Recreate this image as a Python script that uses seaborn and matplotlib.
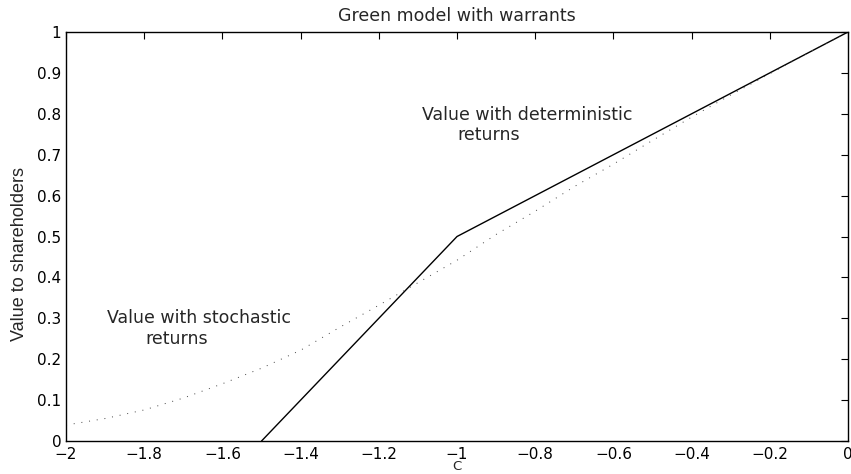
import matplotlib
matplotlib.use("Agg")
import matplotlib.pyplot as plt
from matplotlib.ticker import FuncFormatter, MultipleLocator
import pandas as pd
import seaborn as sns

# Deterministic-return value: kinked line
det_c = [-1.5, -1.0, 0.0]
det_v = [0.0, 0.5, 1.0]

# Stochastic-return value: smooth curve
sto_c = [-2.0, -1.9, -1.8, -1.7, -1.6, -1.5, -1.4, -1.3, -1.2, -1.1, -1.0,
         -0.9, -0.8, -0.7, -0.6, -0.5, -0.4, -0.3, -0.2, -0.1, 0.0]
sto_v = [0.039, 0.055, 0.076, 0.105, 0.140, 0.178, 0.222, 0.278, 0.332, 0.387, 0.442,
         0.505, 0.562, 0.622, 0.677, 0.735, 0.792, 0.846, 0.898, 0.950, 1.0]

title = "Green model with warrants"
xlabel = "C"
ylabel = "Value to shareholders"

sns.set_style("white")
plt.rcParams["font.family"] = ["DejaVu Sans"]

fig = plt.figure(figsize=(8.51, 4.74), dpi=100)
ax = fig.add_axes([0.0776, 0.0696, 0.9189, 0.8629])

det = pd.DataFrame({"C": det_c, "V": det_v})
sto = pd.DataFrame({"C": sto_c, "V": sto_v})

sns.lineplot(data=det, x="C", y="V", ax=ax, color="black", linewidth=1.0,
             sort=False, estimator=None)
sns.lineplot(data=sto, x="C", y="V", ax=ax, color="#444444", linewidth=0.7,
             sort=False, estimator=None, linestyle=(0, (1, 7)))

ax.set_xlim(-2, 0)
ax.set_ylim(0, 1)
ax.xaxis.set_major_locator(MultipleLocator(0.2))
ax.yaxis.set_major_locator(MultipleLocator(0.1))
fmt = FuncFormatter(lambda v, p: ("%g" % round(v, 2)).replace("-", "\u2212"))
ax.xaxis.set_major_formatter(fmt)
ax.yaxis.set_major_formatter(fmt)

for s in ax.spines.values():
    s.set_visible(True)
    s.set_color("black")
    s.set_linewidth(1.0)
ax.tick_params(direction="in", length=5, width=0.8, top=True, right=True,
               labelsize=11, colors="black", pad=3.5)
ax.tick_params(axis="x", pad=4.5)

ax.set_title(title, fontsize=12.5, pad=8)
ax.set_xlabel(xlabel, fontsize=9.5, va="bottom")
ax.xaxis.set_label_coords(0.5, -0.077)
ax.set_ylabel(ylabel, fontsize=13, family="Liberation Sans")
ax.yaxis.set_label_coords(-0.049, 0.456)

ax.text(-0.82, 0.797, "Value with deterministic", fontsize=12.5, ha="center", va="center")
ax.text(-0.919, 0.748, "returns", fontsize=12.5, ha="center", va="center")
ax.text(-1.66, 0.30, "Value with stochastic", fontsize=12.5, ha="center", va="center")
ax.text(-1.716, 0.249, "returns", fontsize=12.5, ha="center", va="center")

fig.savefig("out.png", dpi=100)
